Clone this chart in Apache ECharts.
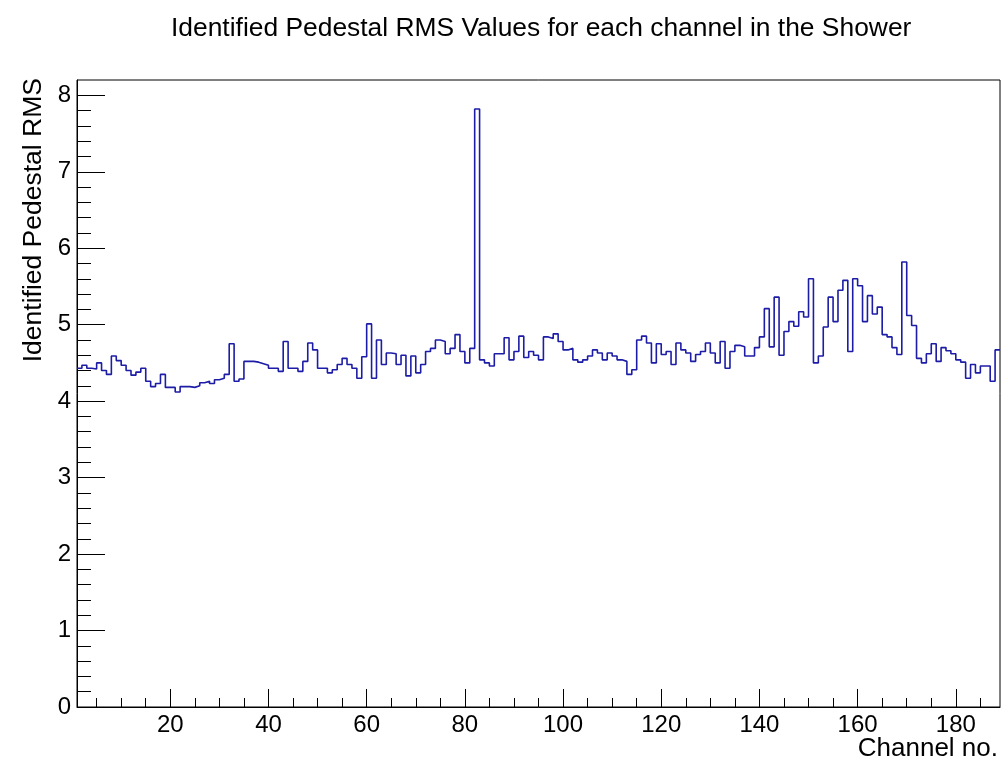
<!DOCTYPE html>
<html><head><meta charset="utf-8">
<script src="https://cdn.jsdelivr.net/npm/echarts@6/dist/echarts.min.js"></script>
<style>html,body{margin:0;padding:0;background:#fff}#c{width:1002px;height:763px}</style>
</head><body><div id="c"></div>
<script>
// Histogram: channels 1..188, bin k spans [k, k+1)
const xMin = 1, xMax = 189;
const rmsValues = [
 4.43,4.47,4.43,4.42,4.50,4.40,4.35,4.59,4.53,4.47,
 4.40,4.34,4.38,4.43,4.26,4.19,4.23,4.35,4.18,4.18,
 4.12,4.19,4.19,4.18,4.20,4.24,4.26,4.23,4.28,4.30,
 4.35,4.75,4.26,4.29,4.52,4.52,4.51,4.49,4.47,4.43,
 4.43,4.39,4.78,4.43,4.43,4.39,4.52,4.76,4.67,4.43,
 4.43,4.37,4.41,4.48,4.56,4.48,4.43,4.30,4.58,5.01,
 4.30,4.80,4.48,4.63,4.62,4.48,4.60,4.33,4.59,4.37,
 4.48,4.65,4.69,4.80,4.78,4.62,4.69,4.87,4.65,4.50,
 4.69,7.82,4.54,4.50,4.46,4.62,4.62,4.83,4.54,4.65,
 4.85,4.57,4.65,4.60,4.54,4.84,4.82,4.88,4.78,4.67,
 4.69,4.54,4.51,4.54,4.59,4.67,4.63,4.54,4.63,4.59,
 4.54,4.52,4.35,4.41,4.80,4.85,4.76,4.50,4.75,4.61,
 4.65,4.48,4.76,4.67,4.63,4.52,4.61,4.65,4.76,4.63,
 4.50,4.78,4.43,4.65,4.73,4.71,4.59,4.59,4.70,4.84,
 5.21,4.71,5.36,4.60,4.91,5.04,4.98,5.17,5.10,5.60,
 4.50,4.59,4.97,5.36,5.04,5.45,5.58,4.65,5.60,5.51,
 5.04,5.38,5.14,5.23,4.87,4.84,4.70,4.61,5.82,5.12,
 4.99,4.56,4.50,4.62,4.75,4.52,4.70,4.66,4.62,4.54,
 4.51,4.30,4.48,4.37,4.46,4.46,4.26,4.67
];
const xMajorTicks = [20,40,60,80,100,120,140,160,180];
const xMinorTicks = [5,10,15,25,30,35,45,50,55,65,70,75,85,90,95,105,110,115,125,130,135,145,150,155,165,170,175,185];
const yMin = 0, yMax = 8.2;
const yMajorTicks = [0,1,2,3,4,5,6,7,8];
const yMinorTicks = [0.2,0.4,0.6,0.8,1.2,1.4,1.6,1.8,2.2,2.4,2.6,2.8,3.2,3.4,3.6,3.8,4.2,4.4,4.6,4.8,5.2,5.4,5.6,5.8,6.2,6.4,6.6,6.8,7.2,7.4,7.6,7.8];
const titleText = 'Identified Pedestal RMS Values for each channel in the Shower';
const xTitle = 'Channel no.';
const yTitle = 'Identified Pedestal RMS';

// build step data: left edge of each bin, plus closing right edge
const stepData = rmsValues.map((v, i) => [xMin + i, v]);
stepData.push([xMin + rmsValues.length, rmsValues[rmsValues.length - 1]]);

const FONT = 'Liberation Sans, Arial, Helvetica, sans-serif';
const chart = echarts.init(document.getElementById('c'));
const axisLineStyle = { color: '#000', width: 1 };
chart.setOption({
  animation: false,
  backgroundColor: '#fff',
  title: {
    text: titleText, left: 166, top: 11,
    textStyle: { fontFamily: FONT, fontSize: 26.4, fontWeight: 'normal', color: '#000' }
  },
  graphic: [{
    type: 'text', right: 4, top: 736,
    style: { text: xTitle, fontFamily: FONT, fontSize: 26, fill: '#000' }
  }],
  grid: { left: 77, right: 2, top: 80, bottom: 56, outerBoundsMode: 'none', containLabel: false,
          show: true, borderColor: '#000', borderWidth: 1, backgroundColor: 'transparent' },
  xAxis: [
    {
      type: 'value', min: xMin, max: xMax, position: 'bottom',
      axisLine: { show: true, onZero: false, lineStyle: axisLineStyle },
      axisTick: { show: true, inside: true, length: 18, customValues: xMajorTicks, lineStyle: axisLineStyle },
      axisLabel: { show: true, customValues: xMajorTicks, margin: 6, fontFamily: FONT, fontSize: 24, color: '#000' },
      splitLine: { show: false }
    },
    {
      type: 'value', min: xMin, max: xMax, position: 'bottom',
      axisLine: { show: false },
      axisTick: { show: true, inside: true, length: 9, customValues: xMinorTicks, lineStyle: axisLineStyle },
      axisLabel: { show: false }, splitLine: { show: false }
    }
  ],
  yAxis: [
    {
      type: 'value', min: yMin, max: yMax, position: 'left',
      axisLine: { show: true, onZero: false, lineStyle: axisLineStyle },
      axisTick: { show: true, inside: true, length: 28, customValues: yMajorTicks, lineStyle: axisLineStyle },
      axisLabel: { show: true, customValues: yMajorTicks, margin: 6, fontFamily: FONT, fontSize: 24, color: '#000' },
      splitLine: { show: false },
      name: yTitle, nameLocation: 'end', nameGap: 2, nameRotate: 90,
      nameTextStyle: { fontFamily: FONT, fontSize: 26.5, color: '#000', align: 'right', verticalAlign: 'bottom', padding: [0, 0, 30, 0] }
    },
    {
      type: 'value', min: yMin, max: yMax, position: 'left',
      axisLine: { show: false },
      axisTick: { show: true, inside: true, length: 14, customValues: yMinorTicks, lineStyle: axisLineStyle },
      axisLabel: { show: false }, splitLine: { show: false }
    }
  ],
  series: [{
    type: 'line', step: 'end', xAxisIndex: 0, yAxisIndex: 0,
    data: stepData, showSymbol: false, symbol: 'none',
    lineStyle: { color: '#1c1ca6', width: 1.6 }
  }]
});
</script></body></html>
